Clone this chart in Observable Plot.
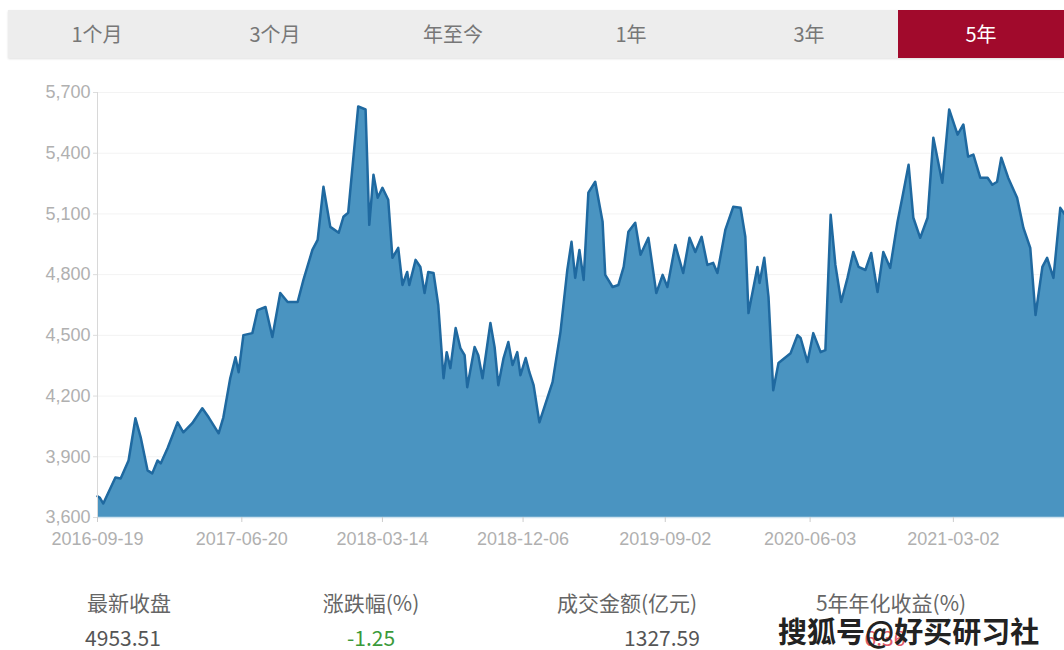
<!DOCTYPE html>
<html>
<head>
<meta charset="utf-8">
<script src="https://cdn.jsdelivr.net/npm/d3@7"></script>
<script src="https://cdn.jsdelivr.net/npm/@observablehq/plot@0.6"></script>
<style>
  html, body { margin: 0; padding: 0; background: #fff; }
  body { width: 1064px; height: 650px; position: relative; overflow: hidden;
         font-family: "Noto Sans CJK SC", "Noto Sans", sans-serif; }
  #tabs { position: absolute; top: 10px; left: 8px; width: 1056px; height: 48px;
          background: #ededed; box-shadow: 0 1px 2px rgba(0,0,0,0.12); }
  .tab { position: absolute; top: 0; height: 48px; line-height: 48px; text-align: center;
         font-size: 20px; color: #777; }
  .tab.active { background: #a10a2c; color: #fff; }
  #chart { position: absolute; top: 80px; left: 0; }
  .stat { position: absolute; transform: translateX(-50%); white-space: nowrap; font-size: 21px; line-height: 30px; }
  .lbl { top: 587px; color: #666; }
  .val { top: 622px; color: #555; }
  #wm { position: absolute; left: 778px; top: 610px; font-size: 29px; line-height: 40px; font-weight: bold;
        color: #222; white-space: nowrap; }
</style>
</head>
<body>
<div id="tabs"></div>
<div id="chart"></div>
<div id="stats"></div>
<div id="wm">搜狐号@好买研习社</div>
<script>
// ---- data ----
const tabLabels = ["1个月", "3个月", "年至今", "1年", "3年", "5年"];
const activeTab = "5年";

const dates = [
"2016-09-19","2016-09-23","2016-09-30","2016-10-23","2016-11-02","2016-11-17","2016-11-30","2016-12-10","2016-12-23","2017-01-01",
"2017-01-11","2017-01-17","2017-01-30","2017-02-18","2017-03-01","2017-03-18","2017-04-06","2017-04-18","2017-05-07","2017-05-16",
"2017-05-29","2017-06-08","2017-06-14","2017-06-23","2017-07-10","2017-07-20","2017-08-04","2017-08-17","2017-09-01","2017-09-15",
"2017-10-04","2017-10-15","2017-11-01","2017-11-11","2017-11-22","2017-12-05","2017-12-21","2017-12-30","2018-01-08","2018-01-27",
"2018-02-10","2018-02-17","2018-02-25","2018-03-05","2018-03-14","2018-03-25","2018-04-02","2018-04-13","2018-04-21","2018-04-30",
"2018-05-04","2018-05-16","2018-05-25","2018-06-02","2018-06-09","2018-06-19","2018-06-28","2018-07-08","2018-07-14","2018-07-21",
"2018-07-31","2018-08-09","2018-08-17","2018-08-22","2018-09-05","2018-09-12","2018-09-20","2018-10-05","2018-10-13","2018-10-20",
"2018-10-30","2018-11-08","2018-11-16","2018-11-25","2018-12-01","2018-12-11","2018-12-18","2018-12-26","2019-01-06","2019-01-31",
"2019-02-15","2019-02-28","2019-03-08","2019-03-15","2019-03-23","2019-03-31","2019-04-09","2019-04-22","2019-05-06","2019-05-11",
"2019-05-25","2019-06-05","2019-06-15","2019-06-24","2019-07-07","2019-07-17","2019-08-01","2019-08-16","2019-08-28","2019-09-06",
"2019-09-21","2019-10-06","2019-10-18","2019-10-29","2019-11-10","2019-11-21","2019-12-02","2019-12-10","2019-12-25","2020-01-09",
"2020-01-23","2020-02-01","2020-02-07","2020-02-24","2020-02-28","2020-03-08","2020-03-16","2020-03-25","2020-04-04","2020-04-27",
"2020-05-10","2020-05-16","2020-05-29","2020-06-09","2020-06-23","2020-07-02","2020-07-12","2020-07-21","2020-08-01","2020-08-13",
"2020-08-24","2020-09-03","2020-09-16","2020-09-27","2020-10-09","2020-10-20","2020-11-02","2020-11-16","2020-11-25","2020-12-07",
"2020-12-16","2020-12-29","2021-01-12","2021-01-23","2021-02-09","2021-02-22","2021-03-10","2021-03-21","2021-03-30","2021-04-09",
"2021-04-22","2021-05-06","2021-05-15","2021-05-24","2021-06-01","2021-06-14","2021-07-01","2021-07-13","2021-07-26","2021-08-05",
"2021-08-18","2021-08-27","2021-09-08","2021-09-21","2021-09-29"
];
const closes = [
3705,3699,3669,3798,3793,3882,4090,3996,3833,3818,
3882,3867,3942,4070,4021,4066,4140,4095,4016,4095,
4288,4392,4318,4501,4511,4625,4640,4492,4709,4665,
4665,4774,4922,4972,5234,5036,5007,5086,5106,5631,
5616,5046,5294,5180,5229,5170,4883,4932,4749,4813,
4749,4873,4838,4709,4813,4808,4650,4288,4417,4338,
4536,4437,4402,4244,4442,4402,4288,4561,4442,4254,
4388,4467,4353,4417,4303,4388,4318,4254,4070,4269,
4516,4823,4962,4784,4922,4774,5205,5259,5061,4799,
4739,4749,4838,5012,5056,4898,4982,4709,4799,4739,
4947,4808,4982,4912,4987,4848,4858,4808,5021,5135,
5130,4987,4610,4838,4759,4883,4690,4229,4363,4412,
4501,4487,4368,4511,4417,4427,5096,4848,4665,4784,
4912,4838,4823,4907,4714,4912,4833,5061,5180,5343,
5081,4982,5081,5477,5254,5616,5492,5542,5383,5393,
5279,5279,5244,5259,5378,5279,5180,5031,4932,4600,
4838,4883,4784,5130,5100
];
const yTicks = [3600, 3900, 4200, 4500, 4800, 5100, 5400, 5700];
const xTickLabels = ["2016-09-19","2017-06-20","2018-03-14","2018-12-06","2019-09-02","2020-06-03","2021-03-02"];
const xDomain = ["2016-09-19", "2021-09-29"];

const statLabels = ["最新收盘", "涨跌幅(%)", "成交金额(亿元)", "5年年化收益(%)"];
const statValues = ["4953.51", "-1.25", "1327.59", "6.36"];

// ---- tabs ----
const tabs = document.getElementById("tabs");
tabLabels.forEach((t, i) => {
  const d = document.createElement("div");
  d.className = "tab" + (t === activeTab ? " active" : "");
  d.style.left = (i * 178) + "px";
  d.style.width = (i === tabLabels.length - 1 ? 1056 - i * 178 : 178) + "px";
  d.textContent = t;
  tabs.appendChild(d);
});

// ---- chart ----
const parse = d3.utcParse("%Y-%m-%d");
const data = dates.map((d, i) => ({date: parse(d), close: closes[i]}));
const baseline = yTicks[0];

const chart = Plot.plot({
  width: 1064,
  height: 470,
  marginTop: 12,
  marginBottom: 33,
  marginLeft: 97,
  marginRight: 0,
  style: {fontSize: "18px", fontFamily: "'Liberation Sans', 'Noto Sans', sans-serif", color: "#b0b0b0", background: "transparent", overflow: "visible"},
  x: {type: "utc", domain: xDomain.map(parse), label: null},
  y: {domain: [yTicks[0], yTicks[yTicks.length - 1]], label: null},
  marks: [
    Plot.gridY(yTicks, {stroke: "#f3f3f3", strokeOpacity: 1}),
    Plot.areaY(data, {x: "date", y1: baseline, y2: "close", fill: "#4a94c1", fillOpacity: 1}),
    Plot.lineY(data, {x: "date", y: "close", stroke: "#1f69a0", strokeWidth: 2.5}),
    Plot.ruleX([parse(xDomain[0])], {stroke: "#d8d8d8"}),
    Plot.ruleY([baseline], {stroke: "#cfe3f0", strokeWidth: 1.5}),
    Plot.axisY(yTicks, {label: null, tickFormat: d3.format(","), tickSize: 4, tickPadding: 3, stroke: "#ddd", fill: "#b0b0b0", fontSize: 18}),
    Plot.axisX(xTickLabels.map(parse), {label: null, tickFormat: d3.utcFormat("%Y-%m-%d"), tickSize: 5, tickPadding: 10, stroke: "#ccc", fill: "#b0b0b0", fontSize: 18})
  ]
});
document.getElementById("chart").appendChild(chart);

// ---- stats ----
const statX = [129, 371, 627, 891];
const valX = [123, 371, 662, 885];
const valColor = ["#555", "#3a9a3a", "#555", "#e05a6a"];
const stats = document.getElementById("stats");
statLabels.forEach((s, i) => {
  const l = document.createElement("div");
  l.className = "stat lbl"; l.style.left = statX[i] + "px"; l.textContent = s;
  stats.appendChild(l);
  const v = document.createElement("div");
  v.className = "stat val"; v.style.left = valX[i] + "px"; v.style.color = valColor[i]; v.textContent = statValues[i];
  stats.appendChild(v);
});
</script>
</body>
</html>
